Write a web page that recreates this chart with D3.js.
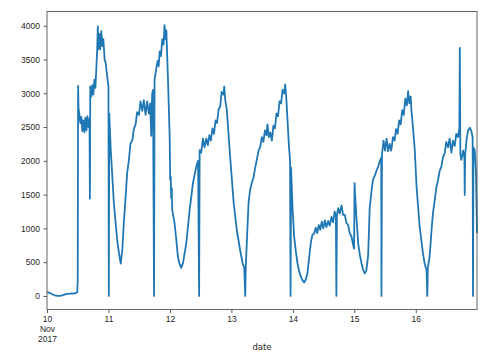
<!DOCTYPE html>
<html>
<head>
<meta charset="utf-8">
<script src="https://cdn.jsdelivr.net/npm/d3@7"></script>
<style>
  body { margin: 0; background: #fff; }
  svg { display: block; font-family: "DejaVu Sans", sans-serif; }
</style>
</head>
<body>
<div id="chart"></div>
<script>
// hours since 2017-11-10 00:00
const hours = [
  0, 1, 2, 3, 4, 5, 6, 7, 8, 9, 10, 11, 11.8, 12.0, 12.15, 12.3, 12.6, 13.0, 13.4, 13.8,
  14.2, 14.6, 15.0, 15.4, 15.8, 16.2, 16.6, 16.75, 16.9, 17.3, 17.7, 18.1, 18.5, 18.9, 19.3, 19.6,
  19.85, 20.0, 20.4, 20.8, 21.2, 21.6, 22.0, 22.5, 22.9, 23.5, 24.0, 24.15, 24.3, 24.9, 25.5, 26.1,
  26.8, 27.4, 28.1, 28.8, 29.4, 30.0, 30.7, 31.3, 32.0, 32.6, 33.3, 33.9, 34.6, 35.2, 35.9, 36.5,
  37.2, 37.8, 38.5, 39.1, 39.8, 40.3, 40.7, 40.9, 41.1, 41.4, 41.8, 42.0, 42.6, 43.2, 43.6, 44.0,
  44.5, 45.0, 45.5, 45.9, 46.3, 46.6, 47.2, 47.9, 48.1, 48.3, 48.5, 48.7, 48.9, 49.8, 50.5, 51.1,
  51.8, 52.4, 53.1, 54.4, 55.7, 57.0, 58.3, 59.0, 59.4, 59.6, 60.2, 60.9, 61.5, 62.2, 62.8, 63.4,
  64.0, 64.6, 65.2, 65.8, 66.4, 67.0, 67.6, 68.2, 68.9, 69.2, 69.6, 70.2, 71.5, 72.9, 74.1, 75.4,
  76.4, 77.0, 77.4, 77.6, 78.0, 78.7, 79.3, 80.0, 80.7, 81.3, 81.9, 82.6, 83.2, 83.9, 84.5, 85.1,
  85.7, 86.1, 86.6, 87.2, 87.8, 88.4, 89.0, 89.6, 90.2, 90.8, 91.4, 92.0, 92.6, 93.0, 93.4, 93.9,
  94.5, 94.9, 95.1, 95.3, 95.9, 96.5, 97.2, 97.8, 98.5, 99.1, 99.8, 100.4, 101.0, 101.7, 102.3, 103.0,
  103.6, 104.3, 104.9, 105.5, 106.1, 106.7, 107.3, 107.9, 108.5, 109.1, 109.8, 110.4, 111.1, 111.7, 112.3, 112.8,
  113.0, 113.2, 113.7, 114.3, 115.0, 115.6, 116.3, 116.9, 117.6, 118.2, 118.9, 119.5, 119.9, 120.1, 120.3, 120.8,
  121.5, 122.2, 122.8, 123.5, 124.1, 124.7, 125.4, 126.0, 126.7, 127.3, 128.0, 128.6, 129.3, 130.0, 130.5, 130.6,
  130.8, 131.4, 132.0, 132.6, 133.2, 133.8, 134.4, 135.1, 135.7, 136.3, 136.9, 137.5, 138.1, 138.7, 139.3, 139.9,
  140.5, 141.0, 141.5, 142.0, 142.3, 143.0, 143.6, 144.3, 145.5, 146.8, 147.5, 148.2, 148.5, 148.7, 149.4, 150.1,
  150.7, 151.4, 152.0, 152.7, 153.3, 154.0, 154.6, 155.3, 155.9, 156.6, 157.2, 157.9, 158.5, 159.2, 159.8, 160.5,
  161.0, 161.2, 161.4, 161.8, 162.5, 163.0, 163.1, 163.3, 163.8, 164.4, 165.1, 165.7, 166.2, 166.35, 166.5, 167.0,
  167.5, 167.9
];

const values = [
  58, 45, 25, 10, 3, 0, 8, 22, 30, 33, 36, 40, 55, 230, 3110, 2780, 2700, 2560, 2650, 2440,
  2600, 2420, 2640, 2450, 2660, 2500, 2620, 1440, 3100, 2950, 3120, 2980, 3200, 3080, 3400, 3650,
  3990, 3650, 3880, 3650, 3920, 3700, 3800, 3500, 3450, 3250, 3100, 0, 2700, 2160, 1770, 1375,
  1080, 830, 635, 480, 680, 1080, 1470, 1820, 2020, 2260, 2300, 2470, 2540, 2720, 2680, 2880,
  2740, 2900, 2680, 2880, 2700, 2850, 2370, 2800, 3000, 3050, 0, 3200, 3350, 3480, 3400, 3620,
  3550, 3800, 3720, 4010, 3800, 3930, 3250, 2360, 1720, 1770, 1450, 1600, 1275, 1080, 830, 580,
  470, 415, 485, 785, 1275, 1675, 1915, 2000, 0, 2160, 2120, 2330, 2200, 2330, 2230, 2380,
  2300, 2480, 2400, 2600, 2560, 2760, 2800, 3020, 2980, 3100, 2900, 2760, 2065, 1375, 980, 680,
  480, 420, 0, 400, 780, 1375, 1570, 1680, 1765, 1900, 2015, 2150, 2200, 2350, 2280, 2450,
  2380, 2540, 2350, 2420, 2300, 2520, 2480, 2700, 2660, 2880, 2850, 3050, 3000, 3130, 2950, 2610,
  2200, 2015, 0, 1900, 1275, 880, 650, 485, 360, 285, 230, 200, 240, 335, 550, 785,
  900, 920, 1010, 930, 1050, 980, 1100, 1000, 1120, 1020, 1110, 1040, 1170, 1090, 1250, 1180,
  0, 1200, 1300, 1220, 1340, 1200, 1200, 1080, 1050, 930, 880, 760, 700, 1670, 1500, 1175,
  780, 600, 485, 380, 335, 380, 600, 1300, 1550, 1720, 1780, 1850, 1915, 2000, 2050, 0,
  2100, 2300, 2150, 2330, 2140, 2250, 2150, 2350, 2300, 2470, 2400, 2600, 2540, 2750, 2680, 2920,
  2820, 3030, 2850, 2950, 2750, 2450, 2160, 1620, 1025, 630, 470, 385, 0, 420, 580, 950,
  1225, 1420, 1600, 1720, 1850, 1915, 2050, 2115, 2280, 2200, 2330, 2120, 2300, 2220, 2400, 2350,
  2480, 3670, 2100, 2015, 2150, 2050, 1495, 2100, 2310, 2450, 2490, 2440, 2350, 0, 2200, 2160,
  1820, 930
];

const yTicks = [0, 500, 1000, 1500, 2000, 2500, 3000, 3500, 4000];
const start = Date.UTC(2017, 10, 10);

const data = hours.map((h, i) => ({ date: new Date(start + h * 3600e3), value: values[i] }));

const svgWidth = 500, svgHeight = 352;
const margin = { top: 11.5, left: 47 };
const width = 430, height = 298;

const svg = d3.select("#chart").append("svg")
    .attr("width", svgWidth)
    .attr("height", svgHeight);

const g = svg.append("g")
    .attr("transform", `translate(${margin.left},${margin.top})`);

const x = d3.scaleUtc()
    .domain(d3.extent(data, d => d.date))
    .range([0, width]);

const vmin = d3.min(values), vmax = d3.max(values);
const pad = (vmax - vmin) * 0.05;
const y = d3.scaleLinear()
    .domain([vmin - pad, vmax + pad])
    .range([height, 0]);

// line
g.append("path")
    .datum(data)
    .attr("fill", "none")
    .attr("stroke", "#1f77b4")
    .attr("stroke-width", 1.8)
    .attr("stroke-linejoin", "round")
    .attr("d", d3.line().x(d => x(d.date)).y(d => y(d.value)));

// axes
const fmtDay = d3.utcFormat("%-d");
const xAxis = g.append("g")
    .attr("transform", `translate(0,${height})`)
    .call(d3.axisBottom(x).ticks(d3.utcDay.every(1)).tickFormat(fmtDay).tickSizeOuter(0).tickSize(3.5).tickPadding(3));

xAxis.selectAll(".tick text")
    .each(function(d, i) {
        if (i === 0) {
            const t = d3.select(this);
            t.append("tspan").attr("x", 0).attr("dy", "1.2em").text(d3.utcFormat("%b")(d));
            t.append("tspan").attr("x", 0).attr("dy", "1.2em").text(d3.utcFormat("%Y")(d));
        }
    });

g.append("g")
    .call(d3.axisLeft(y).tickValues(yTicks).tickFormat(d3.format("d")).tickSizeOuter(0).tickSize(3.5).tickPadding(3.5));

g.selectAll(".domain").remove();
g.selectAll(".tick line").attr("stroke", "#333").attr("stroke-width", 0.8);
g.selectAll(".tick text").attr("fill", "#262626").style("font-size", "8.5px");

// frame
g.append("rect")
    .attr("width", width)
    .attr("height", height)
    .attr("fill", "none")
    .attr("stroke", "#555")
    .attr("stroke-width", 0.9);

svg.append("text")
    .attr("x", margin.left + width / 2)
    .attr("y", 350)
    .attr("text-anchor", "middle")
    .attr("fill", "#262626")
    .style("font-size", "8.5px")
    .text("date");
</script>
</body>
</html>
